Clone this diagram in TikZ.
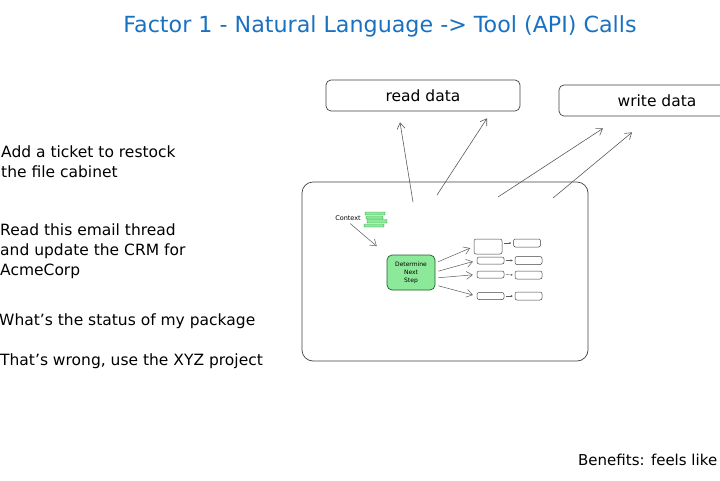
\documentclass[tikz,border=0pt]{standalone}
\usepackage{fontspec}
\setmainfont{DejaVu Sans}
\usepackage{tikz}
\usetikzlibrary{positioning}
\usetikzlibrary{arrows.meta}
\definecolor{titleblue}{HTML}{1971C2}
\definecolor{stepgreen}{HTML}{8CE99A}
\definecolor{stepedge}{HTML}{2F9E44}
\definecolor{inkgray}{HTML}{5A5A5A}

\begin{document}
\begin{tikzpicture}[x=1pt, y=-1pt,
		    box/.style={draw=black!75, line width=0.7pt, rounded corners=5pt, inner sep=0pt},
		    slot/.style={box, rounded corners=2pt, line width=0.5pt, minimum width=27pt, minimum height=7pt},
		    prompt/.style={anchor=west, align=left, inner sep=0pt,
		                   font=\fontsize{15.5}{20}\selectfont},
		    arr/.style={draw=inkgray, line width=0.6pt, -{Straight Barb[length=6pt,width=8pt]}},
		    tiny/.style={draw=inkgray, line width=0.4pt, -{Stealth[length=2pt,width=2pt]},
		                 shorten <=2pt, shorten >=2pt}]
 \clip (0,0) rectangle (720,480);

 \node [font=\fontsize{22.2}{26}\selectfont, text=titleblue] (title) at (380,26)
       {Factor 1 - Natural Language -> Tool (API) Calls};

 \node [prompt] (ticket) at (1,162) {Add a ticket to restock\\the file cabinet};
 \node [prompt] (email) at (0,251) {Read this email thread\\and update the CRM for\\AcmeCorp};
 \node [prompt] (status) at (-1,321) {What's the status of my package};
 \node [prompt] (wrong) at (0,361) {That's wrong, use the XYZ project};
 \node [prompt, font=\fontsize{15}{20}\selectfont] (benefit) at (578,460) {Benefits: feels like};

 \node [box, minimum width=194pt, minimum height=31pt, font=\fontsize{15.5}{18}\selectfont]
       (read) at (423,95.5) {read data};
 \node [box, minimum width=196pt, minimum height=31pt, font=\fontsize{15.5}{18}\selectfont]
       (write) at (657,100.5) {write data};

 \node [box, rounded corners=11pt, minimum width=286pt, minimum height=179pt] (agent) at (445,271.5) {};

 \coordinate (rd1) at (413,202);
 \coordinate (rd2) at (437,195);
 \coordinate (wr1) at (498,197);
 \coordinate (wr2) at (553,198);
 \draw [arr] (rd1) -- ([xshift=-23pt, yshift=-11pt]read.south);
 \draw [arr] (rd2) -- ([xshift=64pt, yshift=-7pt]read.south);
 \draw [arr] (wr1) -- ([xshift=-54pt, yshift=-12pt]write.south);
 \draw [arr] (wr2) -- ([xshift=-25pt, yshift=-16pt]write.south);

 \node [font=\fontsize{6.5}{7}\selectfont, inner sep=1pt] (context) at (348,218) {Context};
 \foreach \xa/\ya/\xb/\yb in {365/212/385/215, 366/216/383/219, 367/219.5/387/223, 364/224/384/227}
   \draw [fill=stepgreen, draw=stepedge, line width=0.4pt, rounded corners=0.5pt] (\xa,\ya) rectangle (\xb,\yb);

 \node [box, draw=stepedge!60!black, fill=stepgreen, minimum width=48pt, minimum height=35pt,
        align=center, font=\fontsize{6}{8}\selectfont] (decide) at (411,272.5) {Determine\\Next\\Step};

 \node [slot, minimum width=28pt, minimum height=15pt] (call1) at (488,246.5) {};
 \node [slot] (call2) at (490.5,260.5) {};
 \node [slot] (call3) at (490.5,274.5) {};
 \node [slot] (call4) at (490.5,296) {};
 \node [slot, minimum height=8pt] (res1) at (527,243) {};
 \node [slot, minimum height=8pt] (res2) at (528.5,260.5) {};
 \node [slot, minimum height=8pt] (res3) at (528.5,275) {};
 \node [slot, minimum height=8pt] (res4) at (528.5,296) {};

 \draw [arr, shorten <=3pt, shorten >=13pt, line width=0.5pt] (context.south) -- (decide.north west);
 \path ([yshift=9.5pt]decide.east)   edge [arr, shorten <=3pt, shorten >=4pt, line width=0.5pt] (call1.west)
       ([yshift=0.5pt]decide.east)   edge [arr, shorten <=3pt, shorten >=4pt, line width=0.5pt] (call2.west)
       ([yshift=-5.5pt]decide.east)  edge [arr, shorten <=3pt, shorten >=4pt, line width=0.5pt] (call3.west)
       ([yshift=-12.5pt]decide.east) edge [arr, shorten <=3pt, shorten >=4pt, line width=0.5pt] (call4.west);
 \path (res1.west -| call1.east) edge [tiny] (res1.west)
       (call2.east) edge [tiny] (res2.west)
       (call3.east) edge [tiny] (res3.west)
       (call4.east) edge [tiny] (res4.west);
\end{tikzpicture}
\end{document}
